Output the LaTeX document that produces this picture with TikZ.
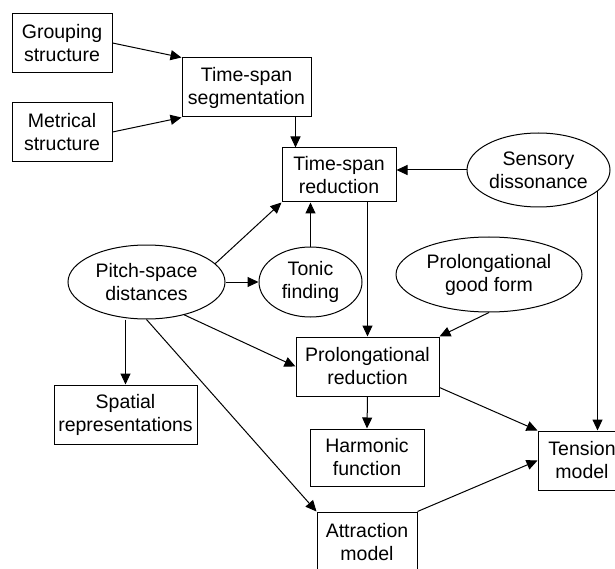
\documentclass[tikz,border=0pt]{standalone}
\usepackage{fontspec}
\setmainfont{Liberation Sans}
\usepackage{tikz}
\usetikzlibrary{shapes.geometric}
\usetikzlibrary{arrows.meta}

\begin{document}
\begin{tikzpicture}[x=1pt, y=-1pt, line width=1pt, font=\fontsize{19.5}{23}\selectfont]

\tikzstyle{procbox}=[align=center,draw=black,inner sep=0pt,minimum height=59]
\tikzstyle{procoval}=[align=center,shape=ellipse,draw=black,inner sep=0pt]
\tikzstyle{link}=[-{Triangle[length=11pt,width=10pt]}]

\useasboundingbox (0,0) rectangle (615,569);

\node[procbox,minimum width=100] (group) at (62,43) {Grouping\\structure};
\node[procbox,minimum width=100] (metr) at (62,132) {Metrical\\structure};
\node[procbox,minimum width=129] (tss) at (246.5,87.5) {Time-span\\segmentation};
\node[procbox,minimum width=114,minimum height=54] (tsr) at (339,175) {Time-span\\reduction};
\node[procoval,minimum width=143,minimum height=74] (sens) at (538.5,170) {Sensory\\dissonance};
\node[procoval,minimum width=157,minimum height=74] (pitch) at (146.5,282) {Pitch-space\\distances};
\node[procoval,minimum width=103,minimum height=70] (tonic) at (310.5,282) {Tonic\\finding};
\node[procoval,minimum width=186,minimum height=75] (pgf) at (489,274.5) {Prolongational\\good form};
\node[procbox,minimum width=143] (pr) at (367.5,366.5) {Prolongational\\reduction};
\node[procbox,minimum width=143] (spatial) at (125.5,414.5) {Spatial\\representations};
\node[procbox,minimum width=114,minimum height=57] (harm) at (367,457.5) {Harmonic\\function};
\node[procbox,minimum width=88] (tension) at (582,460.5) {Tension\\model};
\node[procbox,minimum width=100,minimum height=60] (attr) at (367,542) {Attraction\\model};

% upper part
\draw[link] (group.east) -- (tss.north west);
\draw[link] (metr.east) -- (tss.south west);
\draw[link] ([xshift=-16]tss.south east) -- ([xshift=-16]tss.south east |- tsr.north);
\draw[link] (sens.west) -- (sens.west -| tsr.east);
\draw[link] (tonic.north) -- (tonic.north |- tsr.south);
\draw[link] (pitch.15) -- (tsr.south west);
\draw[link] (pitch.east) -- (tonic.west);

% lower part
\draw[link] (pitch.-41) -- (pr.west);
\draw[link] (spatial.north |- pitch.south) -- (spatial.north);
\draw[link] (pitch.south) -- (attr.north west);
\draw[link] (pr.north |- tsr.south) -- (pr.north);
\draw[link] (pgf.south) -- (pr.north east);
\draw[link] (pr.south) -- (harm.north);
\draw[link] ([yshift=9]pr.south east) -- (tension.north west);
\draw[link] (attr.north east) -- (tension.west);
\draw[link] (sens.-20) -- (sens.-20 |- tension.north);
\end{tikzpicture}
\end{document}
